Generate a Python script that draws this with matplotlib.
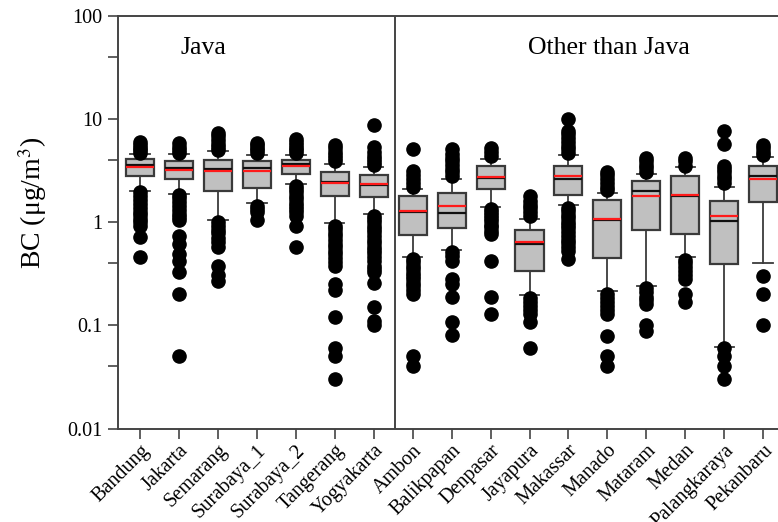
import matplotlib
matplotlib.use("Agg")
import matplotlib.pyplot as plt
from matplotlib.ticker import FixedLocator, NullFormatter

plt.rcParams['font.family'] = ['Liberation Serif', 'DejaVu Serif']
plt.rcParams['mathtext.fontset'] = 'stix'

cities = ["Bandung", "Jakarta", "Semarang", "Surabaya_1", "Surabaya_2", "Tangerang",
          "Yogyakarta", "Ambon", "Balikpapan", "Denpasar", "Jayapura", "Makassar",
          "Manado", "Mataram", "Medan", "Palangkaraya", "Pekanbaru"]

whisker_low = [2.02, 1.90, 1.05, 1.53, 2.36, 0.98, 1.21, 0.457, 0.538, 1.40, 0.196, 1.47,
               0.216, 0.242, 0.457, 0.062, 0.40]
q1 = [2.84, 2.60, 2.03, 2.17, 2.95, 1.78, 1.75, 0.76, 0.875, 2.11, 0.336, 1.85,
      0.453, 0.842, 0.77, 0.396, 1.58]
median = [3.56, 3.33, 3.25, 3.35, 3.69, 2.45, 2.32, 1.25, 1.23, 2.70, 0.611, 2.60,
          1.05, 2.00, 1.81, 1.03, 2.78]
mean = [3.40, 3.23, 3.11, 3.13, 3.51, 2.39, 2.34, 1.29, 1.45, 2.72, 0.648, 2.80,
        1.08, 1.79, 1.82, 1.14, 2.60]
q3 = [4.13, 3.89, 4.04, 3.92, 3.98, 3.06, 2.89, 1.78, 1.91, 3.48, 0.849, 3.51,
      1.64, 2.52, 2.78, 1.60, 3.48]
whisker_high = [4.59, 4.59, 4.87, 4.45, 4.45, 3.69, 3.45, 2.11, 2.64, 4.13, 1.08, 4.45,
                1.93, 2.95, 3.40, 2.22, 4.26]

outliers = [
    [4.7, 5.0, 5.3, 5.6, 6.0,
     1.95, 1.8, 1.65, 1.5, 1.38, 1.27, 1.17, 1.08, 1.0, 0.93, 0.72, 0.46],
    [4.7, 5.0, 5.4, 5.9,
     1.85, 1.7, 1.56, 1.43, 1.32, 1.21, 1.12, 1.04, 0.74, 0.62, 0.49, 0.42, 0.33, 0.2, 0.05],
    [5.0, 5.4, 5.8, 6.3, 6.8, 7.4,
     1.0, 0.92, 0.85, 0.78, 0.71, 0.65, 0.58, 0.38, 0.31, 0.27],
    [4.7, 5.0, 5.3, 5.6, 5.9,
     1.45, 1.35, 1.25, 1.04],
    [4.7, 5.0, 5.3, 5.6, 6.0, 6.4,
     2.25, 2.1, 1.95, 1.8, 1.67, 1.55, 1.44, 1.34, 1.25, 1.16, 0.91, 0.57],
    [3.9, 4.2, 4.5, 4.8, 5.2, 5.6,
     0.93, 0.86, 0.79, 0.73, 0.67, 0.62, 0.57, 0.53, 0.49, 0.45, 0.41, 0.38,
     0.25, 0.22, 0.12, 0.06, 0.05, 0.03],
    [3.6, 3.85, 4.1, 4.4, 4.75, 5.35, 8.8,
     1.15, 1.07, 1.0, 0.93, 0.86, 0.8, 0.74, 0.68, 0.63, 0.58, 0.54, 0.5, 0.46,
     0.42, 0.38, 0.35, 0.33, 0.26, 0.15, 0.11, 0.1],
    [2.2, 2.4, 2.65, 2.9, 3.15, 5.1,
     0.44, 0.41, 0.38, 0.35, 0.32, 0.3, 0.28, 0.26, 0.24, 0.22, 0.2, 0.05, 0.04],
    [2.8, 3.05, 3.3, 3.6, 3.9, 4.2, 4.6, 5.1,
     0.52, 0.47, 0.42, 0.28, 0.25, 0.19, 0.108, 0.08],
    [4.4, 4.8, 5.2,
     1.33, 1.25, 1.17, 1.09, 1.02, 0.95, 0.89, 0.83, 0.77, 0.42, 0.19, 0.13],
    [1.15, 1.25, 1.36, 1.48, 1.62, 1.8,
     0.185, 0.17, 0.155, 0.14, 0.13, 0.108, 0.06],
    [4.7, 5.1, 5.5, 6.0, 6.5, 7.1, 7.7, 10.0,
     1.38, 1.28, 1.18, 1.09, 1.01, 0.94, 0.87, 0.8, 0.74, 0.68, 0.63, 0.58, 0.53, 0.44],
    [2.05, 2.2, 2.4, 2.6, 2.85, 3.1,
     0.2, 0.185, 0.17, 0.155, 0.14, 0.13, 0.079, 0.05, 0.04],
    [3.1, 3.35, 3.6, 3.9, 4.2,
     0.23, 0.21, 0.19, 0.175, 0.16, 0.1, 0.088],
    [3.55, 3.9, 4.2,
     0.43, 0.4, 0.37, 0.34, 0.31, 0.28, 0.2, 0.17],
    [2.4, 2.6, 2.8, 3.05, 3.3, 3.55, 5.7, 7.6,
     0.06, 0.05, 0.04, 0.03],
    [4.5, 4.8, 5.2, 5.6,
     0.3, 0.2, 0.1],
]

y_ticks = [0.01, 0.1, 1, 10, 100]
y_tick_labels = ["0.01", "0.1", "1", "10", "100"]
y_minor = [0.04, 0.4, 4, 40]
region_labels = ["Java", "Other than Java"]

fig = plt.figure(figsize=(7.78, 5.22), dpi=100)
ax = fig.add_axes([118 / 778, (522 - 428.5) / 522, 1 - 118 / 778, (428.5 - 16) / 522])

stats = []
for i, c in enumerate(cities):
    stats.append(dict(label=c, whislo=whisker_low[i], q1=q1[i], med=median[i],
                      mean=mean[i], q3=q3[i], whishi=whisker_high[i],
                      fliers=outliers[i]))

positions = list(range(1, len(cities) + 1))
edge = '#3a3a3a'
ax.bxp(stats, positions=positions, widths=0.72, patch_artist=True,
       showmeans=True, meanline=True, showfliers=True,
       boxprops=dict(facecolor='#c0c0c0', edgecolor=edge, linewidth=1.6),
       medianprops=dict(color='#111111', linewidth=1.6),
       meanprops=dict(color='#ff1a1a', linewidth=1.6, linestyle='-'),
       whiskerprops=dict(color=edge, linewidth=1.3),
       capprops=dict(color=edge, linewidth=1.3),
       capwidths=0.5,
       flierprops=dict(marker='o', markerfacecolor='black', markeredgecolor='black',
                       markersize=9.5, linestyle='none'))

ax.set_yscale('log')
ax.set_ylim(0.01, 100)
ax.set_xlim(0.435, 17.38)
ax.yaxis.set_major_locator(FixedLocator(y_ticks))
ax.set_yticklabels(y_tick_labels)
ax.yaxis.set_minor_locator(FixedLocator(y_minor))
ax.yaxis.set_minor_formatter(NullFormatter())

ax.set_xticks(positions)
ax.set_xticklabels(cities, rotation=45, ha='right', va='top', rotation_mode='anchor')

for s in ['left', 'bottom', 'top']:
    ax.spines[s].set_color('#444444')
    ax.spines[s].set_linewidth(1.4)
ax.spines['right'].set_visible(False)

ax.tick_params(axis='y', which='major', direction='out', length=7, width=1.2,
               color='#444444', labelsize=14.5, pad=4)
ax.tick_params(axis='y', which='minor', direction='out', length=7, width=1.2,
               color='#444444')
ax.tick_params(axis='x', direction='out', length=7, width=1.2, color='#444444',
               labelsize=14.5, pad=2)

ax.axvline(7.55, color='#444444', linewidth=1.4)

ax.text(2.64, 49, region_labels[0], fontsize=18.5, ha='center', va='center')
ax.text(13.04, 49, region_labels[1], fontsize=18.5, ha='center', va='center')

ax.set_ylabel('BC (μg/m$^{3}$)', fontsize=20)
ax.yaxis.set_label_coords(-0.105, 0.547)

fig.savefig('out.png', dpi=100)
